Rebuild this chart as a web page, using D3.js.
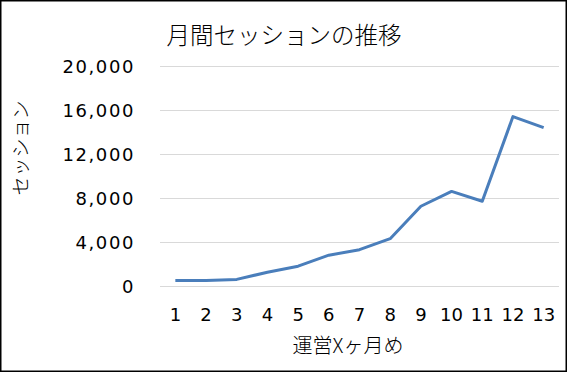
<!DOCTYPE html>
<html>
<head>
<meta charset="utf-8">
<script src="https://d3js.org/d3.v7.min.js"></script>
<style>
  body { margin: 0; background: #fff; }
  svg text { fill: #000; }
</style>
</head>
<body>
<div id="chart"></div>
<script>
// データ
const months = ["1","2","3","4","5","6","7","8","9","10","11","12","13"];
const sessions = [500, 500, 600, 1250, 1800, 2800, 3300, 4300, 7250, 8600, 7700, 15400, 14400];
const yTicks = [0, 4000, 8000, 12000, 16000, 20000];

const width = 567, height = 372;
const margin = { left: 160, right: 8, top: 66, bottom: 86 };

const svg = d3.select("#chart").append("svg")
    .attr("width", width)
    .attr("height", height);

// 外枠
svg.append("rect")
    .attr("x", 0.75).attr("y", 0.75)
    .attr("width", width - 1.5).attr("height", height - 1.5)
    .attr("fill", "#fff")
    .attr("stroke", "#000")
    .attr("stroke-width", 1.5);

const x = d3.scaleBand()
    .domain(months)
    .range([margin.left, 559]);

const y = d3.scaleLinear()
    .domain([0, 20000])
    .range([286, 66]);

// グリッド線
svg.append("g")
    .selectAll("line")
    .data(yTicks)
    .join("line")
    .attr("x1", margin.left).attr("x2", 559)
    .attr("y1", d => Math.round(y(d)) + 0.5)
    .attr("y2", d => Math.round(y(d)) + 0.5)
    .attr("stroke", "#d9d9d9")
    .attr("stroke-width", 1);

// Y軸
const yAxis = svg.append("g")
    .attr("transform", `translate(${margin.left},0)`)
    .call(d3.axisLeft(y).tickValues(yTicks).tickFormat(d3.format(",")).tickSize(0).tickPadding(25));
yAxis.select(".domain").remove();
yAxis.selectAll("text")
    .style("font-family", "DejaVu Sans, Verdana, sans-serif")
    .style("font-size", "18px")
    .style("letter-spacing", "1.6px")
    .attr("dy", "0.36em");

// X軸
const xAxis = svg.append("g")
    .attr("transform", "translate(0,286)")
    .call(d3.axisBottom(x).tickSize(0).tickPadding(22));
xAxis.select(".domain").remove();
xAxis.selectAll("text")
    .style("font-family", "DejaVu Sans, Verdana, sans-serif")
    .style("font-size", "18px");

// 折れ線
const line = d3.line()
    .x((d, i) => x(months[i]) + x.bandwidth() / 2)
    .y(d => y(d));

svg.append("path")
    .datum(sessions)
    .attr("d", line)
    .attr("fill", "none")
    .attr("stroke", "#4a7ebb")
    .attr("stroke-width", 3)
    .attr("stroke-linejoin", "round");

// タイトル
svg.append("text")
    .attr("x", 284).attr("y", 44)
    .attr("text-anchor", "middle")
    .style("font-family", "Noto Sans CJK JP")
    .style("font-size", "23.5px")
    .style("font-weight", 300)
    .text("月間セッションの推移");

svg.append("text")
    .attr("x", 348).attr("y", 353)
    .attr("text-anchor", "middle")
    .style("font-family", "Noto Sans CJK JP")
    .style("font-size", "20px")
    .style("font-weight", 300)
    .text("運営Xヶ月め");

svg.append("text")
    .attr("transform", "translate(28,148) rotate(-90)")
    .attr("text-anchor", "middle")
    .style("font-family", "Noto Sans CJK JP")
    .style("font-size", "19px")
    .style("font-weight", 300)
    .text("セッション");
</script>
</body>
</html>
